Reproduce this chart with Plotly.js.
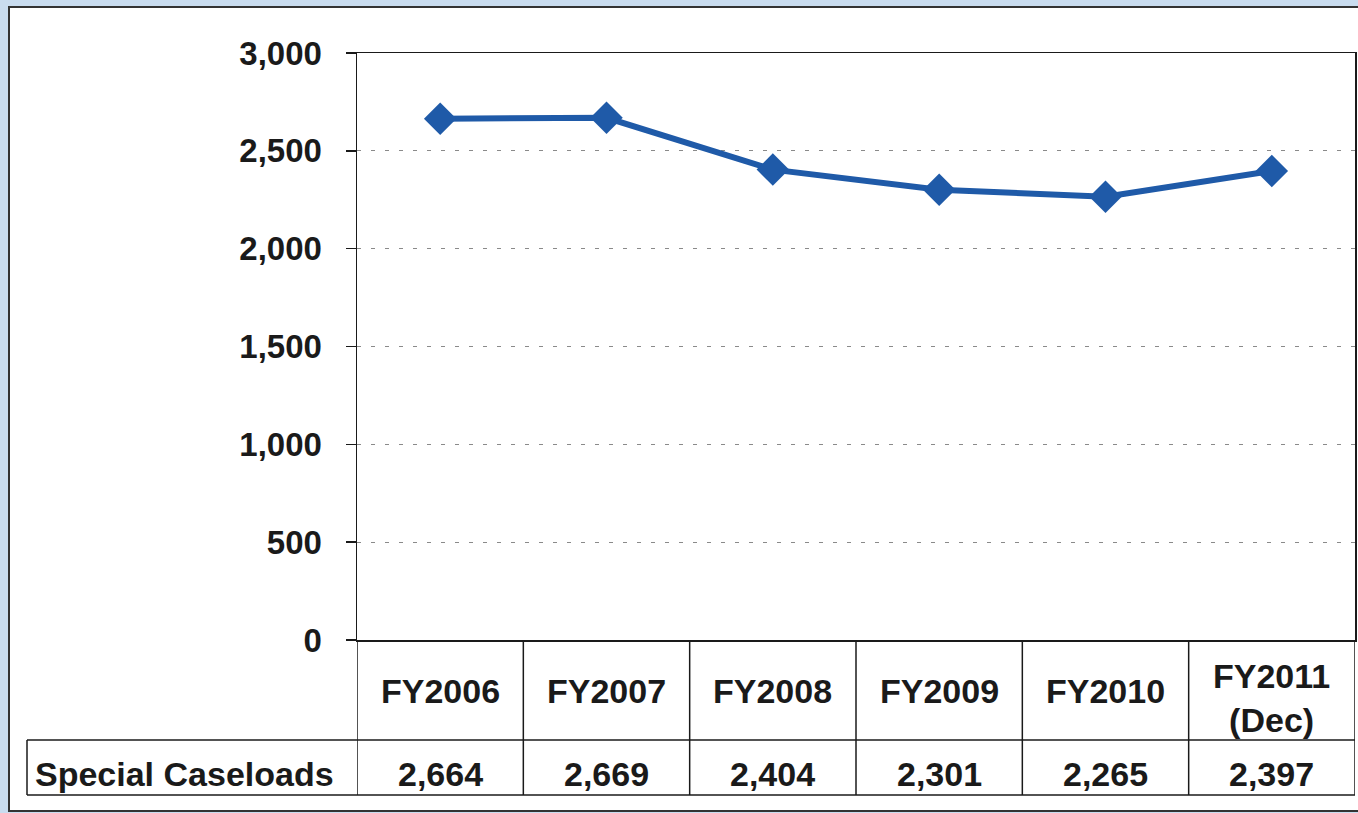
<!DOCTYPE html>
<html>
<head>
<meta charset="utf-8">
<script src="https://cdn.plot.ly/plotly-3.0.1.min.js"></script>
<style>html,body{margin:0;padding:0;background:#c9dcef;}#chart{width:1358px;height:813px;}</style>
</head>
<body>
<div id="chart"></div>
<script>
// Data
const categories = ["FY2006", "FY2007", "FY2008", "FY2009", "FY2010", "FY2011<br>(Dec)"];
const specialCaseloads = [2664, 2669, 2404, 2301, 2265, 2397];
const valueLabels = ["2,664", "2,669", "2,404", "2,301", "2,265", "2,397"];
const rowLabel = "Special Caseloads";
const yTicks = [0, 500, 1000, 1500, 2000, 2500, 3000];

const W = 1358, H = 813;
const L = 357, R = 3, T = 53, B = 173;
const plotW = W - L - R, plotH = H - T - B;
const px = v => (v - L) / plotW;          // pixel x -> paper x
const py = v => (H - B - v) / plotH;      // pixel y -> paper y

const fontFam = "Liberation Sans, Arial, sans-serif";
const txtFont = {family: fontFam, size: 34, color: "#1a1a1a", weight: "bold"};
const tickFont = {family: fontFam, size: 33, color: "#1a1a1a", weight: "bold"};
const lineCol = "#1a1a1a";

const n = categories.length;
const shapes = [];
// outer white panel with frame
shapes.push({type: "rect", xref: "paper", yref: "paper", x0: px(9), x1: px(1362), y0: py(811), y1: py(7),
  fillcolor: "#ffffff", line: {color: "#333", width: 2}, layer: "below"});
// table horizontal lines
[740, 795].forEach(yy => shapes.push({type: "line", xref: "paper", yref: "paper",
  x0: px(27), x1: 1, y0: py(yy), y1: py(yy), line: {color: lineCol, width: 1.5}}));
// table vertical lines at category boundaries
for (let i = 0; i <= n; i++) {
  shapes.push({type: "line", xref: "x", yref: "paper", x0: i - 0.5, x1: i - 0.5,
    y0: 0, y1: py(795), line: {color: lineCol, width: 1.5}});
}
// label cell left border
shapes.push({type: "line", xref: "paper", yref: "paper", x0: px(27), x1: px(27),
  y0: py(740), y1: py(795), line: {color: lineCol, width: 1.5}});

const annotations = [];
categories.forEach((c, i) => {
  annotations.push({x: i, xref: "x", y: py(691), yref: "paper", text: c, showarrow: false,
    xanchor: "center", yanchor: "middle", font: txtFont, yshift: c.includes("<br>") ? -7 : 0});
  annotations.push({x: i, xref: "x", y: py(774), yref: "paper", text: valueLabels[i], showarrow: false,
    xanchor: "center", yanchor: "middle", font: txtFont});
});
annotations.push({x: px(33), xref: "paper", y: py(774), yref: "paper", text: rowLabel, showarrow: false,
  xanchor: "left", yanchor: "middle", font: txtFont});

const trace = {
  x: categories, y: specialCaseloads, type: "scatter", mode: "lines+markers",
  line: {color: "#1f5aa8", width: 6},
  marker: {symbol: "diamond", size: 25, color: "#1f5aa8"},
  hoverinfo: "x+y", cliponaxis: false
};

const layout = {
  width: W, height: H,
  margin: {l: L, r: R, t: T, b: B, pad: 0},
  paper_bgcolor: "#c9dcef",
  plot_bgcolor: "#ffffff",
  showlegend: false,
  xaxis: {type: "category", range: [-0.5, n - 0.5], showticklabels: false, showgrid: false,
    zeroline: false, showline: true, mirror: true, linecolor: lineCol, linewidth: 1.5, ticks: "", fixedrange: true},
  yaxis: {range: [0, 3000], tickvals: yTicks, tickformat: ",", ticks: "outside", ticklen: 10,
    tickcolor: lineCol, tickwidth: 1.5, showline: true, mirror: true, linecolor: lineCol, linewidth: 1.5,
    showgrid: true, gridcolor: "#8a8a8a", gridwidth: 1.2, griddash: "4px,10px", zeroline: false,
    ticklabelstandoff: 17, tickfont: tickFont, fixedrange: true},
  shapes: shapes,
  annotations: annotations
};

Plotly.newPlot("chart", [trace], layout, {displayModeBar: false, staticPlot: true});
</script>
</body>
</html>
